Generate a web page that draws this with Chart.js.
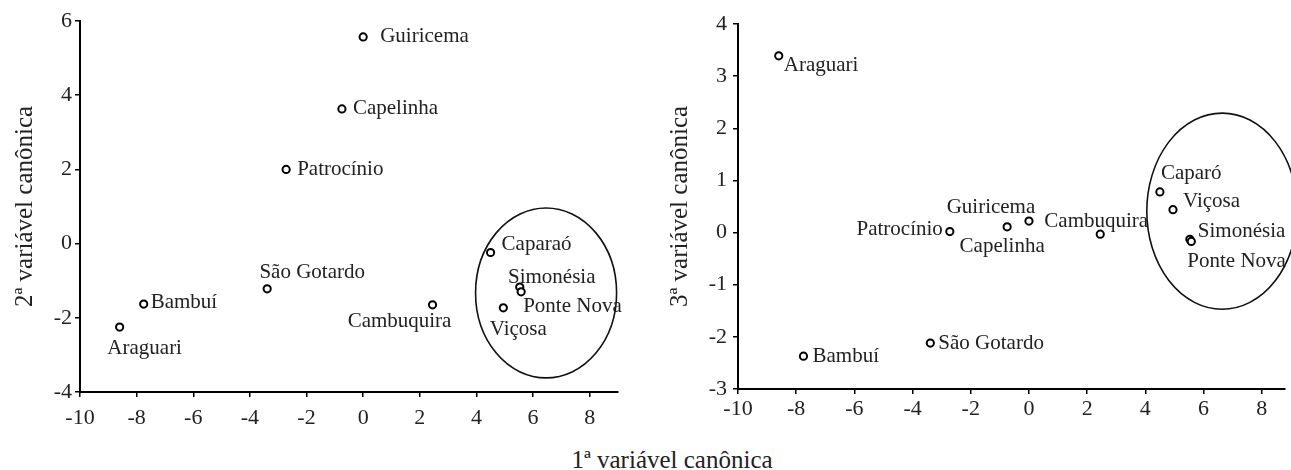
<!DOCTYPE html>
<html>
<head>
<meta charset="utf-8">
<script src="https://cdn.jsdelivr.net/npm/chart.js@4/dist/chart.umd.min.js"></script>
<style>
  html, body { margin: 0; padding: 0; background: #fff; overflow: hidden; }
  #wrap { position: relative; width: 1291px; height: 470px; }
  #c1 { position: absolute; left: 0; top: 0; }
  #c2 { position: absolute; left: 650px; top: 0; }
  #xtitle {
    position: absolute; left: 472px; top: 447px; width: 400px;
    text-align: center; font: 25px/25px "Liberation Serif", "Times New Roman", serif; color: #222;
  }
</style>
</head>
<body>
<div id="wrap">
  <canvas id="c1" width="640" height="430"></canvas>
  <canvas id="c2" width="641" height="430"></canvas>
  <div id="xtitle">1ª variável canônica</div>
</div>
<script>
// municipalities, same order in both plots
var namesLeft = ["Araguari", "Bambuí", "São Gotardo", "Patrocínio", "Capelinha", "Guiricema",
                 "Cambuquira", "Caparaó", "Viçosa", "Simonésia", "Ponte Nova"];
var namesRight = ["Araguari", "Bambuí", "São Gotardo", "Patrocínio", "Capelinha", "Guiricema",
                  "Cambuquira", "Caparó", "Viçosa", "Simonésia", "Ponte Nova"];

// canonical variable scores
var var1 = [-8.6, -7.75, -3.39, -2.72, -0.75, 0.0, 2.45, 4.5, 4.95, 5.53, 5.58];
var var2 = [-2.25, -1.63, -1.22, 2.0, 3.63, 5.57, -1.65, -0.24, -1.73, -1.17, -1.3];
var var3 = [3.39, -2.37, -2.12, 0.02, 0.11, 0.22, -0.03, 0.78, 0.44, -0.13, -0.17];

// group ellipses: [centre x, centre y, radius x, radius y] in axis units
var groupLeft = [6.46, -1.33, 2.49, 2.29];
var groupRight = [6.64, 0.41, 2.59, 1.88];

// label placement relative to each point (px): dx, dy, align
var offsLeft = [[25, 21, "center"], [7, -2, "left"], [45, -16, "center"], [11, 0, "left"],
                [11, 0, "left"], [17, 0, "left"], [-33, 17, "center"], [11, -8, "left"],
                [15, 22, "center"], [32, -10, "center"], [2, 15, "left"]];
var offsRight = [[5, 10, "left"], [9, 0, "left"], [8, 0, "left"], [-7, -2, "right"],
                 [-5, 20, "center"], [-38, -14, "center"], [-4, -13, "center"], [1, -18, "left"],
                 [10, -8, "left"], [8, -8, "left"], [-4, 20, "left"]];

var serif = "'Liberation Serif', 'Times New Roman', serif";
var ink = "#222";

function toPoints(xs, ys) {
  var pts = [];
  for (var i = 0; i < xs.length; i++) pts.push({x: xs[i], y: ys[i]});
  return pts;
}

function labelPlugin(names, offs) {
  return {
    id: "pointNames",
    afterDatasetsDraw: function(chart) {
      var ctx = chart.ctx;
      var meta = chart.getDatasetMeta(0);
      ctx.save();
      ctx.font = "21px " + serif;
      ctx.fillStyle = ink;
      ctx.textBaseline = "middle";
      meta.data.forEach(function(pt, i) {
        ctx.textAlign = offs[i][2];
        ctx.fillText(names[i], pt.x + offs[i][0], pt.y + offs[i][1]);
      });
      ctx.restore();
    }
  };
}

function ellipsePlugin(g) {
  return {
    id: "groupEllipse",
    beforeDatasetsDraw: function(chart) {
      var xs = chart.scales.x, ys = chart.scales.y, ctx = chart.ctx;
      var cx = xs.getPixelForValue(g[0]), cy = ys.getPixelForValue(g[1]);
      var rx = Math.abs(xs.getPixelForValue(g[0] + g[2]) - cx);
      var ry = Math.abs(ys.getPixelForValue(g[1] + g[3]) - cy);
      ctx.save();
      ctx.beginPath();
      ctx.ellipse(cx, cy, rx, ry, 0, 0, Math.PI * 2);
      ctx.lineWidth = 1.6;
      ctx.strokeStyle = "#111";
      ctx.stroke();
      ctx.restore();
    }
  };
}

function makeChart(id, xs, ys, opt) {
  return new Chart(document.getElementById(id), {
    type: "scatter",
    data: {
      datasets: [{
        data: toPoints(xs, ys),
        pointStyle: "circle",
        pointRadius: 3.6,
        pointBorderWidth: 2,
        pointBorderColor: "#000",
        pointBackgroundColor: "#fff"
      }]
    },
    options: {
      responsive: false,
      animation: false,
      layout: { padding: opt.padding },
      plugins: { legend: { display: false }, tooltip: { enabled: false } },
      scales: {
        x: {
          type: "linear",
          min: -10, max: opt.xMax,
          afterFit: function(s) { s.height = opt.xHeight; },
          border: { color: "#000", width: 2 },
          grid: { drawOnChartArea: false, tickLength: 5, color: "#000", lineWidth: 1.5 },
          ticks: { stepSize: 2, includeBounds: false, padding: opt.xPad, color: ink,
                   font: { family: serif, size: 22 }, maxRotation: 0,
                   callback: function(v) { return String(v); } }
        },
        y: {
          type: "linear",
          min: opt.yMin, max: opt.yMax,
          afterFit: function(s) { s.width = opt.yWidth; },
          border: { color: "#000", width: 2 },
          grid: { drawOnChartArea: false, tickLength: 5, color: "#000", lineWidth: 1.5 },
          ticks: { stepSize: opt.yStep, padding: opt.yPad, color: ink,
                   font: { family: serif, size: 22 },
                   callback: function(v) { return String(v); } },
          title: { display: true, text: opt.yTitle, color: ink,
                   font: { family: serif, size: 25 }, padding: { top: opt.titlePad, bottom: 0 } }
        }
      }
    },
    plugins: [ellipsePlugin(opt.group), labelPlugin(opt.names, opt.offs)]
  });
}

makeChart("c1", var1, var2, {
  padding: { left: 0, right: 22, top: 21, bottom: 0 },
  xMax: 9, xHeight: 38, xPad: 8,
  yMin: -4, yMax: 6, yStep: 2, yWidth: 80, yPad: 3,
  yTitle: "2ª variável canônica", titlePad: 10,
  group: groupLeft, names: namesLeft, offs: offsLeft
});

makeChart("c2", var1, var3, {
  padding: { left: 0, right: 1, top: 24, bottom: 0 },
  xMax: 8.8, xHeight: 41, xPad: 2,
  yMin: -3, yMax: 4, yStep: 1, yWidth: 88, yPad: 6,
  yTitle: "3ª variável canônica", titlePad: 15,
  group: groupRight, names: namesRight, offs: offsRight
});
</script>
</body>
</html>
